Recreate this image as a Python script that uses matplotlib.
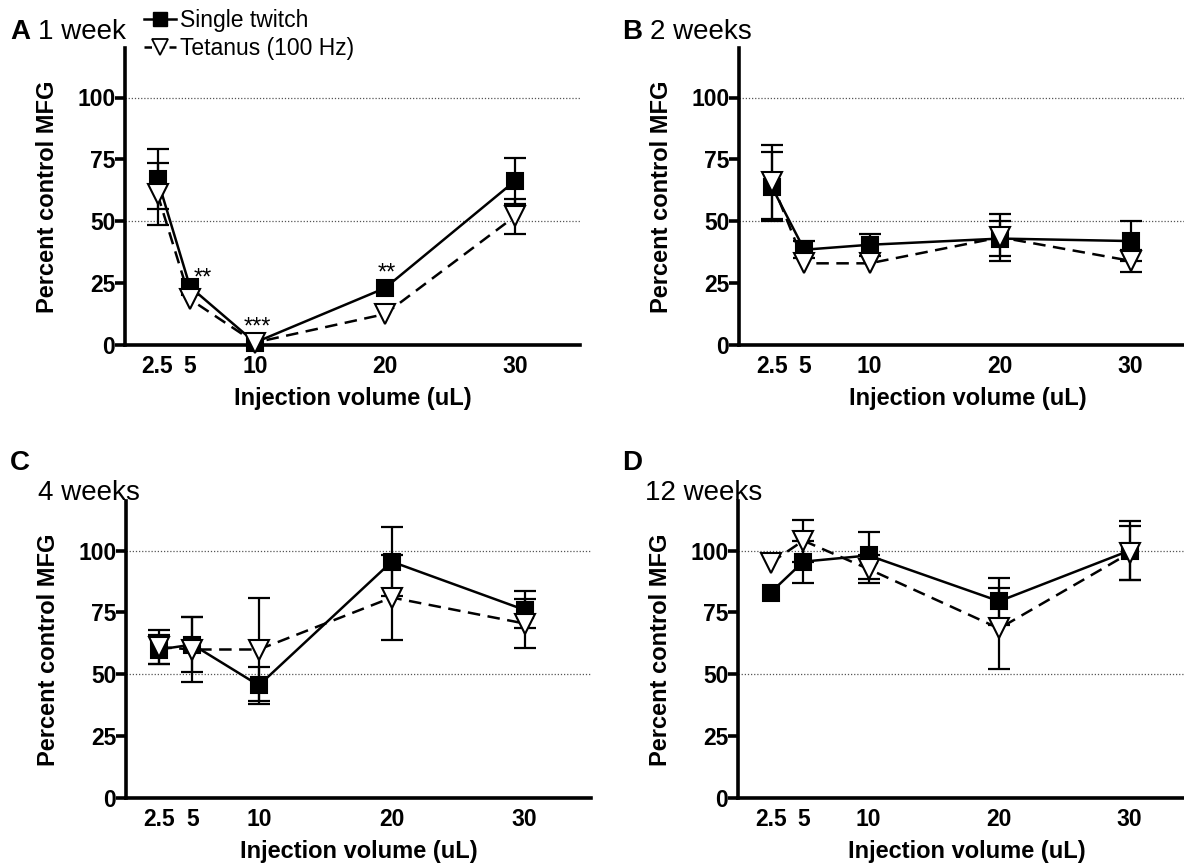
import numpy as np
import matplotlib
matplotlib.use("Agg")
import matplotlib.pyplot as plt

plt.rcParams['font.family'] = ['Liberation Sans', 'DejaVu Sans']

volumes = [2.5, 5, 10, 20, 30]
vol_labels = ['2.5', '5', '10', '20', '30']

# 1 week
a_twitch = [67, 23.5, 1, 23, 66.3]
a_twitch_err = [12, 0, 0, 0, 9.3]
a_tetanus = [61, 18.5, 1, 12.5, 52]
a_tetanus_err = [12.5, 0, 0, 0, 7]

# 2 weeks
b_twitch = [64, 38.5, 40.5, 43, 42]
b_twitch_err = [14, 3.5, 4.5, 7, 8]
b_tetanus = [66, 33, 33, 43.5, 34]
b_tetanus_err = [15, 0, 0, 9.5, 4.5]

# 4 weeks
c_twitch = [60, 62, 45.5, 95.5, 76]
c_twitch_err = [6, 11, 7.5, 14, 7.5]
c_tetanus = [61, 60, 60, 81, 70.5]
c_tetanus_err = [7, 13, 21, 17, 10]

# 12 weeks
d_twitch = [83, 95.5, 98, 79.5, 100]
d_twitch_err = [0, 8.5, 9.5, 9.5, 12]
d_tetanus = [95, 104, 92.5, 68.5, 99]
d_tetanus_err = [0, 8.5, 5.5, 16.5, 11]

# significance marks for 1 week (x, y, text)
stars_x = [6.0, 10.2, 20.1]
stars_y = [27, 7, 29]
stars_txt = ['**', '***', '**']

W, H = 1184, 864
fig = plt.figure(figsize=(W / 100, H / 100), dpi=100)


def make_axes(left, bottom, width, height):
    # pixel box (top-left origin) -> figure fraction
    return fig.add_axes([left / W, (H - bottom) / H, width / W, height / H])


def series(ax, y, err, marker, ls, mfc, ms, z):
    x = np.array(volumes)
    y = np.array(y, dtype=float)
    err = np.array(err, dtype=float)
    m = err > 0
    ax.errorbar(x[m], y[m], yerr=err[m], fmt='none', ecolor='black',
                elinewidth=1.6, capsize=8, capthick=1.6, zorder=z, clip_on=False)
    ax.plot(x, y, ls=ls, color='black', lw=1.8, marker=marker, ms=ms,
            mfc=mfc, mec='black', mew=1.5, zorder=z + 0.5, clip_on=False,
            dashes=(5, 3) if ls == '--' else (None, None))


def style(ax):
    ax.set_xlim(0, 35)
    ax.set_ylim(0, 120)
    for s in ['top', 'right']:
        ax.spines[s].set_visible(False)
    for s in ['left', 'bottom']:
        ax.spines[s].set_linewidth(2.6)
    ax.set_yticks([0, 25, 50, 75, 100])
    ax.set_xticks(volumes)
    ax.set_xticklabels(vol_labels)
    ax.tick_params(axis='x', length=0, pad=7, labelsize=16.5)
    ax.tick_params(axis='y', length=7, width=2.6, pad=0, labelsize=16.5)
    for lab in ax.get_xticklabels() + ax.get_yticklabels():
        lab.set_fontweight('bold')
    for yy in [50, 100]:
        ax.axhline(yy, color='#555555', lw=0.9, ls=(0, (1, 1.5)), zorder=1)
    ax.set_ylabel('Percent control MFG', fontsize=17, fontweight='bold', labelpad=13)
    ax.set_xlabel('Injection volume (uL)', fontsize=17, fontweight='bold', labelpad=7)


panels = [
    (make_axes(125, 345, 455, 297), a_twitch, a_twitch_err, a_tetanus, a_tetanus_err),
    (make_axes(739, 345, 457, 297), b_twitch, b_twitch_err, b_tetanus, b_tetanus_err),
    (make_axes(126, 798, 465, 297), c_twitch, c_twitch_err, c_tetanus, c_tetanus_err),
    (make_axes(738, 798, 457, 297), d_twitch, d_twitch_err, d_tetanus, d_tetanus_err),
]

for ax, tw, twe, te, tee in panels:
    style(ax)
    series(ax, tw, twe, 's', '-', 'black', 12, 3)
    series(ax, te, tee, 'v', '--', 'white', 14, 4)

ax_a = panels[0][0]
for sx, sy, st in zip(stars_x, stars_y, stars_txt):
    ax_a.text(sx, sy, st, ha='center', va='center', fontsize=17)

h1, = ax_a.plot([], [], '-', color='black', lw=1.8, marker='s', ms=10, mfc='black')
h2, = ax_a.plot([], [], color='black', lw=1.8, marker='v', ms=11, mfc='white',
                mec='black', mew=1.3, dashes=(3, 2))
ax_a.legend([h1, h2], ['Single twitch', 'Tetanus (100 Hz)'], loc='upper left',
            bbox_to_anchor=(128 / W, 1 + 7 / H), bbox_transform=fig.transFigure,
            frameon=False, fontsize=16.5, handlelength=1.4, handletextpad=0.15,
            labelspacing=0.2, borderpad=0.2)

# panel titles
fig.text(10 / W, 1 - 32 / H, 'A', fontsize=20, fontweight='bold', va='center')
fig.text(38 / W, 1 - 32 / H, '1 week', fontsize=20, va='center')
fig.text(622 / W, 1 - 32 / H, 'B', fontsize=20, fontweight='bold', va='center')
fig.text(650 / W, 1 - 32 / H, '2 weeks', fontsize=20, va='center')
fig.text(10 / W, 1 - 463 / H, 'C', fontsize=20, fontweight='bold', va='center')
fig.text(38 / W, 1 - 493 / H, '4 weeks', fontsize=20, va='center')
fig.text(622 / W, 1 - 463 / H, 'D', fontsize=20, fontweight='bold', va='center')
fig.text(645 / W, 1 - 493 / H, '12 weeks', fontsize=20, va='center')

fig.savefig('out.png', dpi=100, facecolor='white')
